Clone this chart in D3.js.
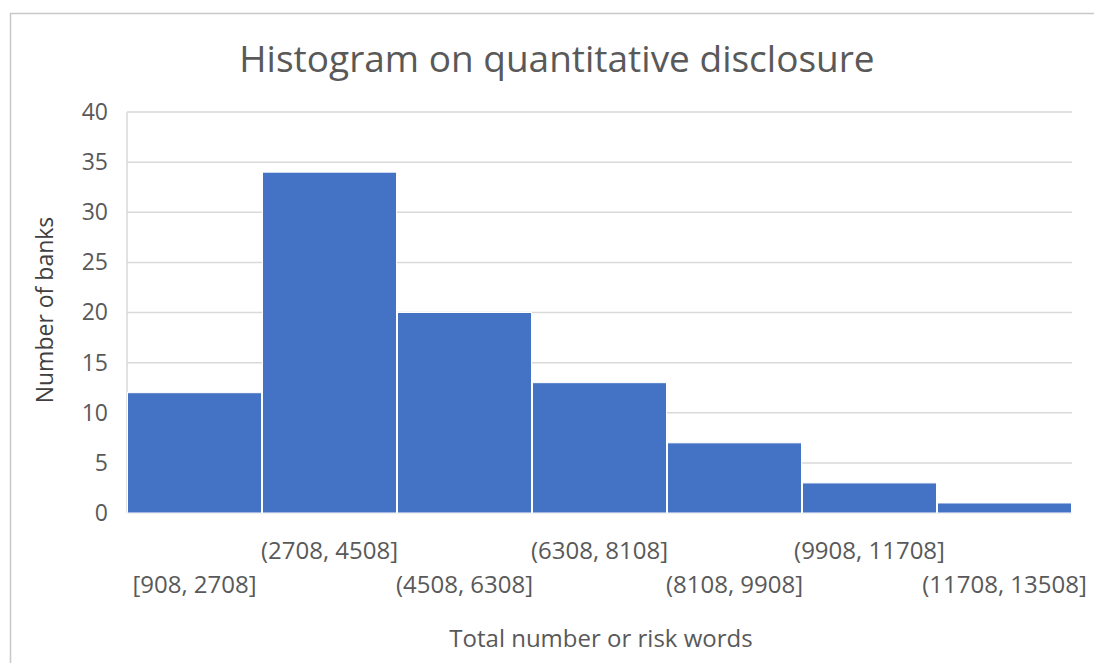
<!DOCTYPE html>
<html><head><meta charset="utf-8">
<script src="https://cdn.jsdelivr.net/npm/d3@7"></script>
<style>html,body{margin:0;padding:0;background:#fff;} svg{display:block;}</style>
</head><body>
<script>
const categories = ["[908, 2708]","(2708, 4508]","(4508, 6308]","(6308, 8108]","(8108, 9908]","(9908, 11708]","(11708, 13508]"];
const counts = [12, 34, 20, 13, 7, 3, 1];
const yTicks = [0, 5, 10, 15, 20, 25, 30, 35, 40];
const title = "Histogram on quantitative disclosure";
const xTitle = "Total number or risk words";
const yTitle = "Number of banks";

const W = 1094, H = 663;
const font = "'Open Sans', 'Noto Sans', sans-serif";
const txt = "#595959";
const svg = d3.select("body").append("svg").attr("width", W).attr("height", H);
svg.append("rect").attr("x", 10.5).attr("y", 13.5).attr("width", W + 20).attr("height", H + 20)
  .attr("fill", "#fff").attr("stroke", "#c8c8c8").attr("stroke-width", 1.5);

const m = {left: 127, right: 1072, top: 112, bottom: 513};
const x = d3.scaleBand().domain(categories).range([m.left, m.right]).padding(0);
const y = d3.scaleLinear().domain([0, 40]).range([m.bottom, m.top]);

// gridlines
svg.append("g").selectAll("line").data(yTicks).join("line")
  .attr("x1", m.left).attr("x2", m.right)
  .attr("y1", d => y(d)).attr("y2", d => y(d))
  .attr("stroke", "#d9d9d9").attr("stroke-width", 1.5);
// left axis line
svg.append("line").attr("x1", m.left).attr("x2", m.left).attr("y1", m.top).attr("y2", m.bottom)
  .attr("stroke", "#d9d9d9").attr("stroke-width", 1.5);

// y tick labels
const yAxis = d3.axisLeft(y).tickValues(yTicks).tickSize(0).tickPadding(19);
const ga = svg.append("g").attr("transform", `translate(${m.left},0)`).call(yAxis);
ga.select(".domain").remove();
ga.selectAll("text").attr("font-family", font).attr("font-size", 23).attr("fill", txt);

// bars
svg.append("g").selectAll("rect").data(counts).join("rect")
  .attr("x", (d, i) => x(categories[i]) + 0.5)
  .attr("width", x.bandwidth() - 1)
  .attr("y", d => y(d))
  .attr("height", d => y(0) - y(d))
  .attr("fill", "#4472C4").attr("stroke", "#fff").attr("stroke-width", 1);

// x labels (staggered)
svg.append("g").selectAll("text").data(categories).join("text")
  .attr("x", d => x(d) + x.bandwidth() / 2)
  .attr("y", (d, i) => i % 2 === 1 ? 559 : 593)
  .attr("text-anchor", "middle")
  .attr("font-family", font).attr("font-size", 24).attr("fill", txt)
  .text(d => d);

// title
svg.append("text").attr("x", 557).attr("y", 72).attr("text-anchor", "middle")
  .attr("font-family", font).attr("font-size", 37).attr("fill", txt).text(title);
// x title
svg.append("text").attr("x", 601).attr("y", 647).attr("text-anchor", "middle")
  .attr("font-family", font).attr("font-size", 24).attr("fill", txt).text(xTitle);
// y title
svg.append("text").attr("transform", `translate(53, 310) rotate(-90)`)
  .attr("text-anchor", "middle")
  .attr("font-family", font).attr("font-size", 23).attr("fill", "#404040").text(yTitle);
</script>
</body></html>
